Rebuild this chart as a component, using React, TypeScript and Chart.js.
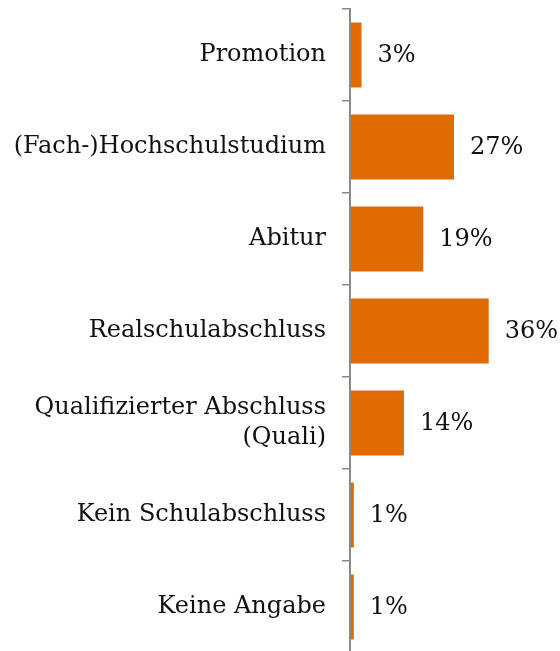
import React, { useEffect, useRef } from "react";
import { Chart, registerables } from "chart.js";

Chart.register(...registerables);

const categories: (string | string[])[] = [
  "Promotion",
  "(Fach-)Hochschulstudium",
  "Abitur",
  "Realschulabschluss",
  ["Qualifizierter Abschluss", "(Quali)"],
  "Kein Schulabschluss",
  "Keine Angabe",
];
const values = [3, 27, 19, 36, 14, 1, 1];
const valueLabels = ["3%", "27%", "19%", "36%", "14%", "1%", "1%"];

const FONT = "'DejaVu Serif', serif";
const BAR = "#E06C00";
const AXIS = "#8a8a8a";

const valueLabelPlugin = {
  id: "valueLabels",
  afterDatasetsDraw(chart: any) {
    const { ctx } = chart;
    const meta = chart.getDatasetMeta(0);
    ctx.save();
    ctx.font = `24px ${FONT}`;
    ctx.fillStyle = "#111";
    ctx.textAlign = "left";
    ctx.textBaseline = "middle";
    meta.data.forEach((el: any, i: number) => {
      ctx.fillText(valueLabels[i], el.x + 16, el.y + 1);
    });
    ctx.restore();
  },
};

export default function App() {
  const ref = useRef<HTMLCanvasElement | null>(null);
  useEffect(() => {
    if (!ref.current) return;
    const chart = new Chart(ref.current, {
      type: "bar",
      data: {
        labels: categories as any,
        datasets: [
          {
            data: values,
            backgroundColor: BAR,
            borderWidth: 0,
            barPercentage: 0.7065,
            categoryPercentage: 1,
          },
        ],
      },
      options: {
        indexAxis: "y",
        responsive: false,
        animation: false,
        layout: { padding: { top: 9, right: 0, bottom: 0, left: 0 } },
        plugins: {
          legend: { display: false },
          tooltip: { enabled: false },
          title: { display: false },
        },
        scales: {
          x: {
            display: false,
            min: 0,
            max: 54.5,
          },
          y: {
            position: "left",
            afterFit: (scale: any) => {
              scale.width = 350;
              scale.paddingTop = 0;
              scale.paddingBottom = 0;
            },
            grid: {
              display: true,
              offset: true,
              drawOnChartArea: false,
              drawTicks: true,
              tickLength: 8,
              color: AXIS,
              lineWidth: 1.5,
            },
            border: { display: true, color: AXIS, width: 2, z: 1 },
            ticks: {
              padding: 16,
              color: "#111",
              font: { family: FONT, size: 24, lineHeight: 1.25 },
            },
          },
        },
      },
      plugins: [valueLabelPlugin],
    });
    return () => chart.destroy();
  }, []);
  return (
    <div
      style={{
        position: "fixed",
        left: 0,
        top: 0,
        width: 560,
        height: 651,
        overflow: "hidden",
        background: "#fff",
      }}
    >
      <canvas ref={ref} width={560} height={653} style={{ display: "block" }} />
    </div>
  );
}
